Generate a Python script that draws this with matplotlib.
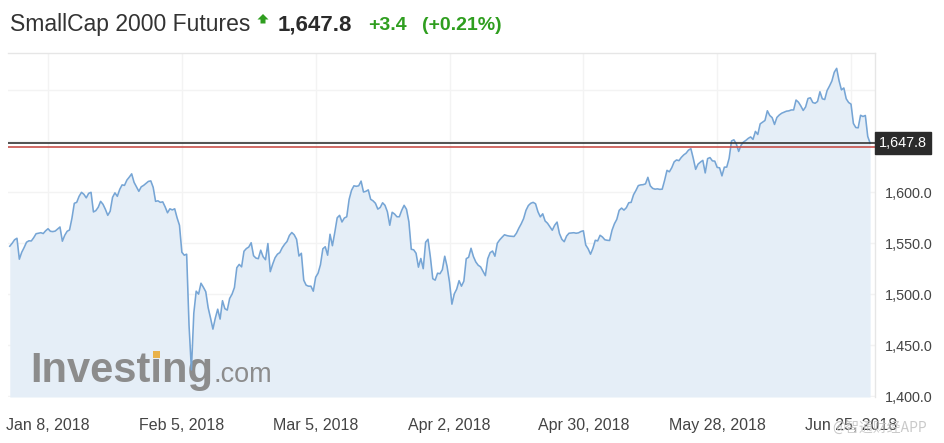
import matplotlib
matplotlib.use("Agg")
import matplotlib.pyplot as plt
import matplotlib.patches as mpatches
import matplotlib.transforms as mtransforms
from matplotlib import font_manager
import pandas as pd

# ---------------- data ----------------
title = "SmallCap 2000 Futures"
last_price = 1647.8
prev_close = 1644.4
change_text = "+3.4"
change_pct_text = "(+0.21%)"
series_start = "2017-12-31 00:00"
series_freq = "12h"

prices = [
    1547.0, 1549.9, 1553.3, 1554.8, 1534.3, 1541.1, 1545.7, 1550.9, 1552.3, 1552.1,
    1555.3, 1559.2, 1559.7, 1560.2, 1559.4, 1562.1, 1564.1, 1561.6, 1561.3, 1561.8,
    1563.8, 1565.8, 1551.9, 1557.7, 1561.6, 1562.9, 1574.3, 1589.0, 1589.9, 1595.8,
    1599.7, 1597.8, 1594.3, 1598.7, 1599.7, 1580.5, 1581.8, 1585.1, 1590.9, 1588.0,
    1583.1, 1577.2, 1581.2, 1594.8, 1599.2, 1595.8, 1602.6, 1607.0, 1606.5, 1611.7,
    1614.6, 1617.8, 1609.5, 1605.1, 1600.7, 1605.1, 1606.5, 1608.5, 1610.4, 1610.9,
    1604.6, 1590.9, 1591.4, 1589.9, 1590.4, 1585.5, 1579.7, 1583.6, 1582.5, 1583.6,
    1574.8, 1567.5, 1541.1, 1538.2, 1539.2, 1469.8, 1426.0, 1481.5, 1503.0, 1500.1,
    1510.8, 1506.9, 1502.5, 1486.9, 1476.7, 1465.9, 1476.7, 1485.4, 1475.7, 1493.7,
    1485.9, 1484.5, 1495.9, 1500.1, 1506.6, 1526.0, 1529.2, 1526.8, 1542.1, 1544.7,
    1546.2, 1550.4, 1537.7, 1535.4, 1534.8, 1543.1, 1536.7, 1533.8, 1549.6, 1522.1,
    1529.4, 1535.7, 1539.2, 1540.8, 1545.5, 1548.9, 1551.6, 1557.5, 1560.4, 1558.2,
    1553.8, 1537.4, 1540.1, 1513.8, 1508.9, 1507.9, 1507.9, 1503.0, 1516.7, 1520.6,
    1528.9, 1544.5, 1546.5, 1538.2, 1558.7, 1547.5, 1560.6, 1574.8, 1577.2, 1570.7,
    1574.6, 1575.8, 1592.9, 1601.7, 1606.1, 1605.6, 1606.1, 1610.7, 1600.0, 1600.7,
    1602.1, 1592.9, 1591.4, 1589.0, 1583.3, 1584.9, 1589.5, 1587.0, 1580.7, 1567.5,
    1580.2, 1578.5, 1575.8, 1575.8, 1582.1, 1587.0, 1583.1, 1570.9, 1544.0, 1543.5,
    1540.1, 1526.5, 1535.0, 1525.0, 1550.9, 1553.8, 1536.2, 1515.2, 1513.8, 1520.6,
    1520.1, 1524.0, 1537.2, 1527.0, 1511.8, 1490.3, 1500.4, 1505.0, 1513.3, 1507.9,
    1512.8, 1534.8, 1536.2, 1545.0, 1536.9, 1531.6, 1528.4, 1526.8, 1522.6, 1518.2,
    1534.8, 1540.7, 1542.3, 1537.2, 1549.9, 1553.2, 1555.8, 1558.2, 1557.4, 1556.9,
    1556.7, 1556.5, 1559.7, 1564.6, 1568.9, 1574.0, 1582.1, 1586.8, 1589.0, 1589.9,
    1588.5, 1580.7, 1575.7, 1578.7, 1571.7, 1569.5, 1566.0, 1562.6, 1567.5, 1570.6,
    1559.4, 1553.8, 1551.4, 1557.0, 1559.7, 1560.0, 1560.2, 1559.7, 1560.1, 1561.4,
    1562.1, 1548.2, 1544.5, 1539.2, 1544.9, 1552.8, 1552.2, 1557.7, 1556.0, 1553.3,
    1552.8, 1552.6, 1562.6, 1568.9, 1573.3, 1582.1, 1584.3, 1582.3, 1584.7, 1589.5,
    1589.9, 1597.3, 1601.5, 1606.3, 1607.0, 1607.2, 1608.0, 1614.4, 1606.1, 1603.6,
    1602.8, 1603.1, 1602.6, 1602.8, 1611.4, 1621.2, 1619.8, 1623.8, 1629.5, 1631.4,
    1630.7, 1633.9, 1636.3, 1638.0, 1641.0, 1642.4, 1632.9, 1622.2, 1627.3, 1629.3,
    1631.0, 1618.7, 1632.7, 1633.7, 1630.5, 1630.2, 1624.1, 1623.7, 1615.8, 1624.3,
    1624.4, 1632.9, 1650.0, 1651.1, 1647.1, 1639.7, 1645.8, 1648.9, 1650.5, 1652.5,
    1653.9, 1651.5, 1659.3, 1656.3, 1666.7, 1668.4, 1670.0, 1679.5, 1674.9, 1672.8,
    1666.1, 1673.0, 1675.4, 1677.1, 1678.1, 1679.1, 1679.4, 1680.3, 1680.3, 1690.0,
    1687.9, 1684.2, 1679.8, 1683.2, 1691.5, 1692.2, 1687.6, 1686.8, 1688.6, 1698.1,
    1691.2, 1690.5, 1699.3, 1703.7, 1708.6, 1717.2, 1721.0, 1708.9, 1699.9, 1701.8,
    1691.2, 1687.6, 1686.0, 1667.1, 1663.1, 1662.8, 1675.1, 1673.9, 1674.9, 1654.4,
    1647.8,
]

x_tick_dates = ["2018-01-08", "2018-02-05", "2018-03-05", "2018-04-02",
                "2018-04-30", "2018-05-28", "2018-06-25"]
x_tick_labels = ["Jan 8, 2018", "Feb 5, 2018", "Mar 5, 2018", "Apr 2, 2018",
                 "Apr 30, 2018", "May 28, 2018", "Jun 25, 2018"]
y_grid = [1400, 1450, 1500, 1550, 1600, 1650, 1700]
y_labelled = [1400, 1450, 1500, 1550, 1600]
x_range = ["2017-12-30 15:00", "2018-06-30 00:30"]
y_range = [1399.5, 1736.3]

# ---------------- fonts ----------------
names = {f.name for f in font_manager.fontManager.ttflist}
sans = "Liberation Sans" if "Liberation Sans" in names else "DejaVu Sans"
plt.rcParams["font.family"] = [sans, "DejaVu Sans"]

# ---------------- colours ----------------
line_c = "#76a5d5"
fill_c = "#e5eef7"
grid_c = "#f3f3f3"
text_c = "#444444"
green = "#2f9e1f"

W, H = 944, 443
fig = plt.figure(figsize=(W / 100, H / 100), dpi=100)
left_px, right_px, top_px, bot_px = 8, 875, 52.7, 397
ax = fig.add_axes([left_px / W, 1 - bot_px / H, (right_px - left_px) / W, (bot_px - top_px) / H])

dates = pd.date_range(series_start, periods=len(prices), freq=series_freq)

ax.set_xlim(pd.Timestamp(x_range[0]), pd.Timestamp(x_range[1]))
ax.set_ylim(*y_range)

ax.fill_between(dates, prices, y_range[0], color=fill_c, lw=0, zorder=1)
ax.plot(dates, prices, color=line_c, lw=1.15, zorder=3)

# grid
ax.set_yticks(y_grid)
ax.set_yticklabels([f"{v:,.1f}" if v in y_labelled else "" for v in y_grid])
ax.set_xticks([pd.Timestamp(d) for d in x_tick_dates])
ax.set_xticklabels(x_tick_labels)
ax.grid(True, color=grid_c, lw=1, zorder=0)
ax.set_axisbelow(True)
ax.yaxis.tick_right()
ax.tick_params(axis="y", length=0, pad=7, labelsize=10.4, labelcolor=text_c)
ax.tick_params(axis="x", length=0, pad=15, labelsize=11.5, labelcolor=text_c)
for s in ax.spines.values():
    s.set_color("#e6e6e6")
    s.set_linewidth(1)
ax.spines["left"].set_visible(False)
ax.spines["bottom"].set_visible(False)

# reference lines
ax.axhline(prev_close, color="#c8504b", lw=1.2, zorder=4)
ax.axhline(last_price, color="#333333", lw=1.2, zorder=4)

# price box
blend = mtransforms.blended_transform_factory(ax.transAxes, ax.transData)
ax.text(1.0 + 4 / (right_px - left_px), last_price, f"{last_price:,.1f}", transform=blend,
        ha="left", va="center", color="white", fontsize=10.4, zorder=6, clip_on=False,
        bbox=dict(boxstyle="square,pad=0.28", fc="#2b2b2b", ec="#2b2b2b"))

# watermark logo
t_inv = ax.text(30 / W, 1 - 382 / H, "Investing", transform=fig.transFigure,
                fontsize=30, fontweight="bold", color="#8c8c8c", ha="left",
                va="baseline", zorder=2)
fig.canvas.draw()
r = fig.canvas.get_renderer()
bb = t_inv.get_window_extent(r)
ax.text(bb.x1 / W + 1 / W, 1 - 382 / H, ".com", transform=fig.transFigure,
        fontsize=19.5, color="#8c8c8c", ha="left", va="baseline", zorder=2)
# yellow dot on the "i"
tmp = ax.text(0, 0, "Invest", fontsize=30, fontweight="bold", transform=fig.transFigure)
tmp_i = ax.text(0, 0, "i", fontsize=30, fontweight="bold", transform=fig.transFigure)
w_pre = tmp.get_window_extent(r).width
w_i = tmp_i.get_window_extent(r).width
tmp.remove(); tmp_i.remove()
em = 30 * 100 / 72
cx = bb.x0 + w_pre + w_i / 2
base_y = H - 382
dot = mpatches.Rectangle(((cx - 0.085 * em) / W, (base_y + 0.585 * em) / H),
                         0.17 * em / W, 0.15 * em / H, transform=fig.transFigure,
                         color="#e9b24a", zorder=2.5, lw=0)
ax.add_artist(dot)
dot.set_clip_on(False)

# header
ty = 1 - 25 / H
fig.text(10 / W, ty, title, fontsize=16.5, color="#333333", ha="left", va="center")
arrow = mpatches.Polygon([(263 / W, 1 - 14 / H), (268.5 / W, 1 - 19.5 / H), (265.5 / W, 1 - 19.5 / H),
                          (265.5 / W, 1 - 23.5 / H), (260.5 / W, 1 - 23.5 / H), (260.5 / W, 1 - 19.5 / H),
                          (257.5 / W, 1 - 19.5 / H)], closed=True, transform=fig.transFigure,
                         color=green, lw=0)
fig.patches.append(arrow)
fig.text(278 / W, ty, f"{last_price:,.1f}", fontsize=16, fontweight="bold", color="#2b2b2b",
         ha="left", va="center")
fig.text(368 / W, ty, change_text, fontsize=14, fontweight="bold", color=green,
         ha="left", va="center")
fig.text(422 / W, ty, change_pct_text, fontsize=14, fontweight="bold", color=green,
         ha="left", va="center")

# bottom-right watermark (overlaps the last date label, as in the source image)
fig.text(832 / W, 1 - 428 / H, "@智通财经APP", fontsize=10, color="#c4c4c4",
         family=["Noto Sans CJK SC", "DejaVu Sans"], ha="left", va="center", alpha=0.9)

fig.savefig("out.png", dpi=100)
